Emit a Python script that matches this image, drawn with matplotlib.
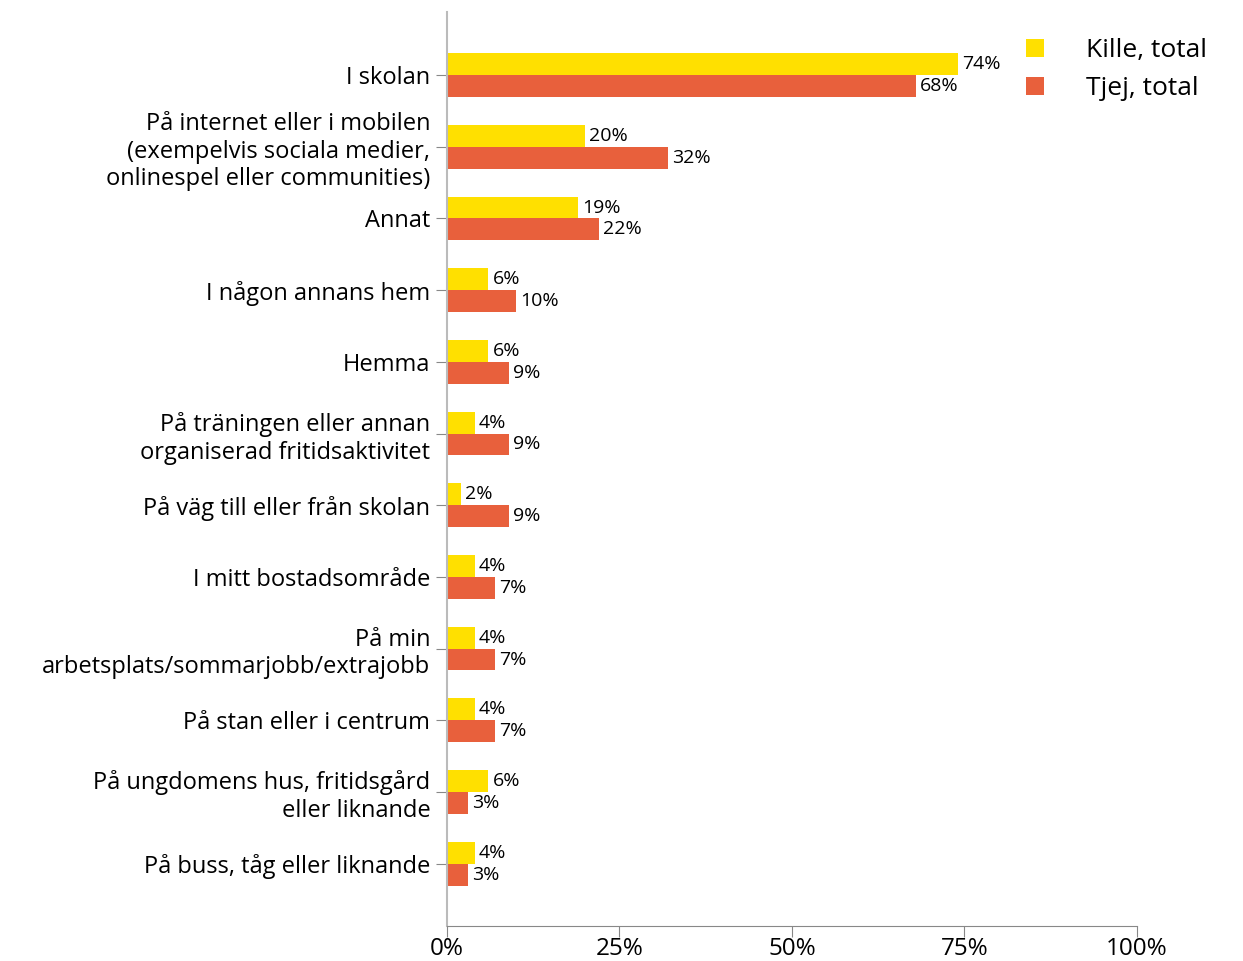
import numpy as np
from matplotlib import pyplot as plt

plt.rcParams['font.family'] = ['Open Sans', 'DejaVu Sans']

categories = ["I skolan",
              "På internet eller i mobilen\n(exempelvis sociala medier,\nonlinespel eller communities)",
              "Annat",
              "I någon annans hem",
              "Hemma",
              "På träningen eller annan\norganiserad fritidsaktivitet",
              "På väg till eller från skolan",
              "I mitt bostadsområde",
              "På min\narbetsplats/sommarjobb/extrajobb",
              "På stan eller i centrum",
              "På ungdomens hus, fritidsgård\neller liknande",
              "På buss, tåg eller liknande"]
kille = [74, 20, 19, 6, 6, 4, 2, 4, 4, 4, 6, 4]
tjej = [68, 32, 22, 10, 9, 9, 9, 7, 7, 7, 3, 3]
series_names = ["Kille, total", "Tjej, total"]
x_ticks = [0, 25, 50, 75, 100]

yellow = '#FFE000'
orange = '#E8603C'

fig = plt.figure(figsize=(12.43, 9.61), dpi=100)
ax = fig.add_axes([0.3596, 0.0364, 0.5551, 0.9511])

y = np.arange(len(categories))
h = 0.305
b1 = ax.barh(y - h / 2, kille, height=h, color=yellow, label=series_names[0])
b2 = ax.barh(y + h / 2, tjej, height=h, color=orange, label=series_names[1])

for bars, vals in [(b1, kille), (b2, tjej)]:
    for bar, v in zip(bars, vals):
        ax.text(v + 0.6, bar.get_y() + bar.get_height() / 2, f"{v}%",
                va='center', ha='left', fontsize=14)

ax.set_yticks(y)
ax.set_yticklabels(categories, fontsize=17, linespacing=1.2)
ax.set_ylim(11.87, -0.88)
ax.set_xlim(0, 100)
ax.set_xticks(x_ticks)
ax.set_xticklabels([f"{t}%" for t in x_ticks], fontsize=17.5)

for s in ['top', 'right']:
    ax.spines[s].set_visible(False)
ax.spines['left'].set_color('#BBBBBB')
ax.spines['left'].set_linewidth(1.5)
ax.spines['bottom'].set_color('#888888')
ax.tick_params(axis='y', length=8, color='#888888', pad=4)
ax.tick_params(axis='x', length=8, color='#888888', pad=0)

fig.legend(handles=[b1, b2], labels=series_names, loc='upper right',
           bbox_to_anchor=(0.99, 0.985), frameon=False, fontsize=19,
           handlelength=0.65, handleheight=0.65, handletextpad=1.6,
           labelspacing=0.5)

plt.savefig("out.png")
